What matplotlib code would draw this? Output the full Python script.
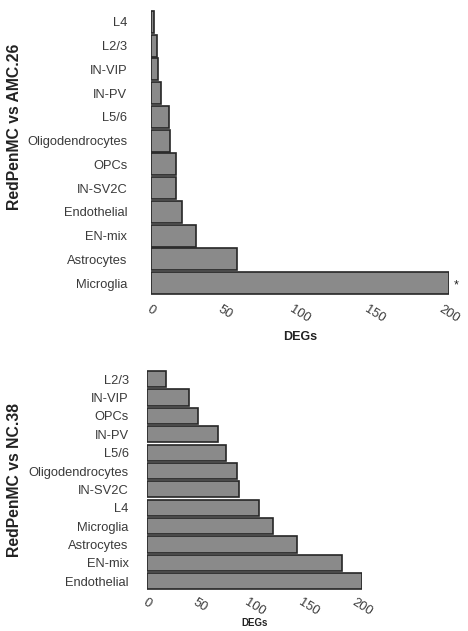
import matplotlib
matplotlib.use("Agg")
import matplotlib.pyplot as plt

plt.rcParams['font.family'] = ['Liberation Sans', 'DejaVu Sans']

# Top panel: RedPenMC vs AMC.26 (listed top to bottom)
top_cats = ["L4", "L2/3", "IN-VIP", "IN-PV", "L5/6", "Oligodendrocytes", "OPCs",
            "IN-SV2C", "Endothelial", "EN-mix", "Astrocytes", "Microglia"]
top_vals = [2, 4, 5, 7, 12, 13, 17, 17, 21, 30, 58, 200]
top_title = "RedPenMC vs AMC.26"

# Bottom panel: RedPenMC vs NC.38 (listed top to bottom)
bot_cats = ["L2/3", "IN-VIP", "OPCs", "IN-PV", "L5/6", "Oligodendrocytes", "IN-SV2C",
            "L4", "Microglia", "Astrocytes", "EN-mix", "Endothelial"]
bot_vals = [18, 39, 48, 66, 74, 84, 86, 104, 117, 139, 181, 200]
bot_title = "RedPenMC vs NC.38"

xticks = [0, 50, 100, 150, 200]
xlabel = "DEGs"

fig = plt.figure(figsize=(4.68, 6.31), dpi=100)

def panel(rect, cats, vals, height, ypad, xpad, xlabel_size, xlabel_pad):
    ax = fig.add_axes(rect)
    n = len(cats)
    ypos = list(range(n))
    ax.barh(ypos, vals, height=height, color="#8a8a8a", edgecolor="#262626", linewidth=1.2)
    ax.set_ylim(n - 0.5, -0.5)
    ax.set_xlim(0, 200)
    ax.set_yticks(ypos)
    ax.set_yticklabels(cats, fontsize=9.3, color="#3a3a3a")
    ax.set_xticks(xticks)
    ax.set_xticklabels([str(t) for t in xticks], fontsize=9.3, color="#3a3a3a",
                       rotation=-32, ha="center")
    ax.tick_params(axis="y", length=0, pad=ypad)
    ax.tick_params(axis="x", length=0, pad=xpad)
    for s in ax.spines.values():
        s.set_visible(False)
    ax.set_xlabel(xlabel, fontsize=xlabel_size, fontweight="bold", labelpad=xlabel_pad,
                  color="#222222")
    ax.patch.set_alpha(0)
    return ax

ax1 = panel([151/468, 1 - 295/631, 298/468, 285/631], top_cats, top_vals, 0.92, 17, 6, 9, 4)
ax1.text(top_vals[-1] + 3, len(top_cats) - 1 + 0.1, "*", fontsize=9, va="center", ha="left",
         color="#222222", clip_on=False)

ax2 = panel([146.7/468, 1 - 590.4/631, 215.6/468, 220.4/631], bot_cats, bot_vals, 0.88, 13, 4, 7, 0)

fig.text(15/468, 1 - 127/631, top_title, rotation=90, fontsize=11.3, fontweight="bold",
         ha="center", va="center", color="#222222")
fig.text(15/468, 1 - 480/631, bot_title, rotation=90, fontsize=11.3, fontweight="bold",
         ha="center", va="center", color="#222222")

fig.savefig("out.png", dpi=100)
